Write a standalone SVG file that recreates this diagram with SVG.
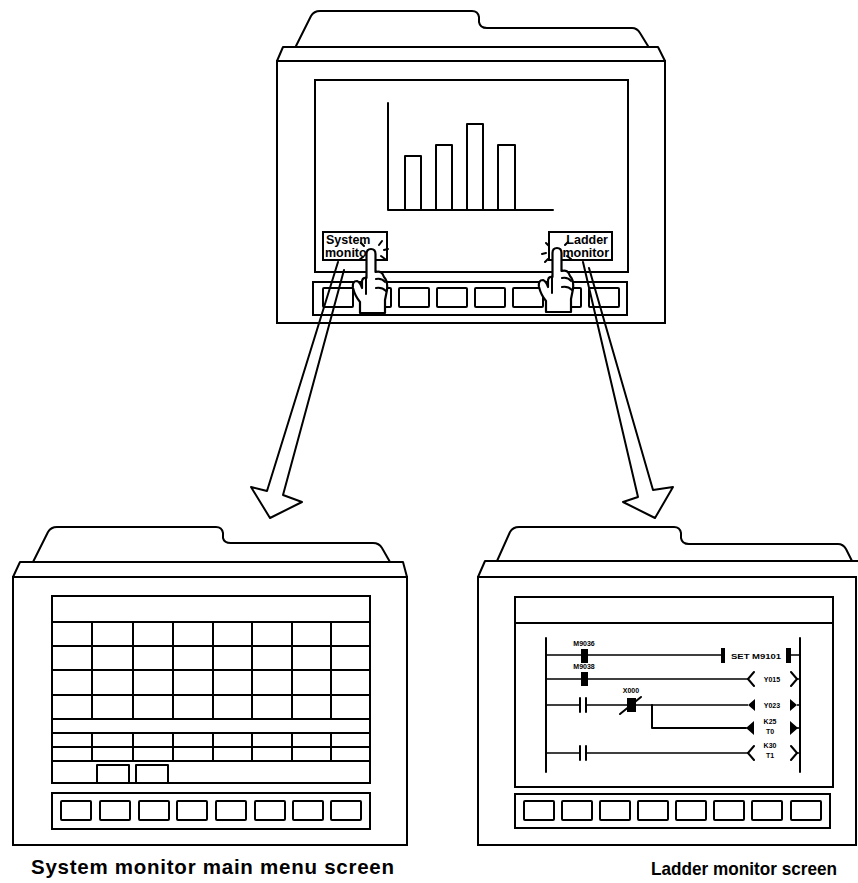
<svg xmlns="http://www.w3.org/2000/svg" width="858" height="883" viewBox="0 0 858 883">
  <defs>
    <style>
      .ln { fill: none; stroke: #000; stroke-width: 2; stroke-linejoin: round; stroke-linecap: round; }
      .bx { fill: #fff; stroke: #000; stroke-width: 2; }
      .thin { fill: none; stroke: #000; stroke-width: 1.6; }
      .blk { fill: #000; stroke: none; }
      .lbl { font-family: "Liberation Sans", Arial, sans-serif; font-weight: bold; fill: #000; }
      .tiny { font-family: "Liberation Sans", Arial, sans-serif; font-weight: bold; font-size: 7px; fill: #000; }
      .hand { fill: #fff; stroke: #000; stroke-width: 2.2; stroke-linejoin: round; stroke-linecap: round; }
    </style>
    <g id="key8">
      <rect class="bx" x="0" y="0" width="30" height="19" rx="1"/>
    </g>
    <path id="handShape" d="M -4.5,28 L -4.5,4 Q -4.5,-1 0,-1 Q 4.5,-1 4.5,4 L 4.5,22 Q 11,20 13,27 Q 17,31 16,40 L 14,50 L 14,63 L -11,63 L -11,52 Q -16,46 -18,38 Q -19,31 -14,31 Q -11,32 -9,38 L -9,31 Q -8,27 -4.5,28 Z"/>
  </defs>
  <rect width="858" height="883" fill="#fff"/>

  <!-- Top panel: graph screen with two touch keys -->
  <g id="top-panel">
    <path class="ln" d="M296,46 L311,16 Q314,11 320,11 L472,11 Q478,11 479,17 L479,22 Q480,28 487,28 L632,28 Q637,28 640,33 L648,46"/>
    <path class="ln" d="M277,61 L283,47 L658,47 L665,61"/>
    <rect class="bx" x="277" y="61" width="388" height="262"/>
    <rect class="bx" x="315" y="80" width="313" height="192"/>
    <!-- bar chart -->
    <path class="ln" d="M388,103 L388,210 L553,210"/>
    <path class="ln" d="M405,210 L405,156 L421,156 L421,210 M436,210 L436,145 L452,145 L452,210 M467,210 L467,124 L483,124 L483,210 M498,210 L498,145 L515,145 L515,210"/>
    <!-- touch keys -->
    <rect class="bx" x="323" y="232" width="64" height="28"/>
    <text class="lbl" x="326" y="244" font-size="12.5">System</text>
    <text class="lbl" x="325" y="257" font-size="12.5">monitor</text>
    <rect class="bx" x="549" y="232" width="63" height="28"/>
    <text class="lbl" x="608" y="244" font-size="12.5" text-anchor="end">Ladder</text>
    <text class="lbl" x="609" y="257" font-size="12.5" text-anchor="end">monitor</text>
    <!-- function key row -->
    <rect class="bx" x="313" y="282" width="314" height="33"/>
    <use href="#key8" x="323" y="288"/>
    <use href="#key8" x="361" y="288"/>
    <use href="#key8" x="399" y="288"/>
    <use href="#key8" x="437" y="288"/>
    <use href="#key8" x="475" y="288"/>
    <use href="#key8" x="513" y="288"/>
    <use href="#key8" x="551" y="288"/>
    <use href="#key8" x="589" y="288"/>
  </g>

  <!-- Lower left panel: system monitor main menu -->
  <g id="system-monitor">
    <path class="ln" d="M33,562 L48,532 Q51,527 57,527 L216,527 Q222,527 223,533 L223,538 Q224,543 231,543 L373,543 Q379,543 382,548 L390,562"/>
    <path class="ln" d="M13,577 L20,562 L403,562 L407,577"/>
    <rect class="bx" x="13" y="577" width="394" height="268"/>
    <rect class="bx" x="52" y="596" width="318" height="187"/>
    <path class="ln" d="M52,622 H370 M52,646 H370 M52,670 H370 M52,695 H370 M52,719 H370 M52,733 H370 M52,747 H370 M52,761 H370"/>
    <path class="ln" d="M92,622 V719 M133,622 V719 M173,622 V719 M213,622 V719 M252,622 V719 M292,622 V719 M331,622 V719"/>
    <path class="ln" d="M92,733 V761 M133,733 V761 M173,733 V761 M213,733 V761 M252,733 V761 M292,733 V761 M331,733 V761"/>
    <path class="ln" d="M97,783 V765 H129 V783 M136,783 V765 H168 V783"/>
    <rect class="bx" x="52" y="793" width="318" height="36"/>
    <use href="#key8" x="61" y="801"/>
    <use href="#key8" x="100" y="801"/>
    <use href="#key8" x="139" y="801"/>
    <use href="#key8" x="177" y="801"/>
    <use href="#key8" x="216" y="801"/>
    <use href="#key8" x="255" y="801"/>
    <use href="#key8" x="293" y="801"/>
    <use href="#key8" x="331" y="801"/>
    <text class="lbl" x="31" y="874" font-size="20.5" textLength="363" lengthAdjust="spacing">System monitor main menu screen</text>
  </g>

  <!-- Lower right panel: ladder monitor -->
  <g id="ladder-monitor">
    <path class="ln" d="M497,561 L510,532 Q513,527 519,527 L674,527 Q680,527 681,533 L681,538 Q682,544 689,544 L838,544 Q843,544 846,549 L852,561"/>
    <path class="ln" d="M478,577 L485,561 L860,561"/>
    <rect class="bx" x="478" y="577" width="378" height="268"/>
    <rect class="bx" x="515" y="597" width="318" height="190"/>
    <path class="ln" d="M515,623 H833"/>
    <!-- rails -->
    <path class="ln" d="M546,638 V772 M800,638 V772"/>
    <!-- rung 1: M9036 -> SET M9101 -->
    <path class="thin" d="M546,655 H721 M791,655 H800"/>
    <rect class="blk" x="581" y="649" width="7" height="14"/>
    <text class="tiny" x="584" y="646" text-anchor="middle">M9036</text>
    <rect class="blk" x="721" y="648" width="4" height="15"/>
    <text class="tiny" x="731" y="659" textLength="50" lengthAdjust="spacingAndGlyphs">SET M9101</text>
    <rect class="blk" x="786" y="648" width="5" height="15"/>
    <!-- rung 2: M9038 -> Y015 -->
    <path class="thin" d="M546,679 H748 M797,679 H800"/>
    <rect class="blk" x="581" y="672" width="7" height="14"/>
    <text class="tiny" x="584" y="669" text-anchor="middle">M9038</text>
    <path class="ln" d="M754,672 L748,679 L754,686 M791,672 L797,679 L791,686"/>
    <text class="tiny" x="772" y="682" text-anchor="middle">Y015</text>
    <!-- rung 3: X0 contact, X000 break contact -> Y023, branch to T0 -->
    <path class="thin" d="M546,705 H580 M586,705 H748 M797,705 H800"/>
    <path class="ln" d="M580,698 V712 M586,698 V712"/>
    <rect class="blk" x="627" y="698" width="9" height="14"/>
    <path class="ln" d="M620,714 L641,697"/>
    <text class="tiny" x="631" y="693" text-anchor="middle">X000</text>
    <path class="blk" d="M748,705 L755,699 L755,711 Z M797,705 L790,699 L790,711 Z"/>
    <text class="tiny" x="772" y="708" text-anchor="middle">Y023</text>
    <path class="ln" d="M652,705 V728 H746"/>
    <path class="blk" d="M746,728 L754,721 L754,735 Z M798,728 L790,721 L790,735 Z"/>
    <path class="thin" d="M797,728 H800"/>
    <text class="tiny" x="770" y="724" text-anchor="middle">K25</text>
    <text class="tiny" x="770" y="734" text-anchor="middle">T0</text>
    <!-- rung 5: contact -> T1 -->
    <path class="thin" d="M546,753 H580 M586,753 H748 M797,753 H800"/>
    <path class="ln" d="M580,746 V760 M586,746 V760"/>
    <path class="ln" d="M754,746 L748,753 L754,760 M791,746 L797,753 L791,760"/>
    <text class="tiny" x="770" y="748" text-anchor="middle">K30</text>
    <text class="tiny" x="770" y="758" text-anchor="middle">T1</text>
    <!-- function key row -->
    <rect class="bx" x="515" y="794" width="315" height="34"/>
    <use href="#key8" x="524" y="801"/>
    <use href="#key8" x="562" y="801"/>
    <use href="#key8" x="600" y="801"/>
    <use href="#key8" x="638" y="801"/>
    <use href="#key8" x="676" y="801"/>
    <use href="#key8" x="714" y="801"/>
    <use href="#key8" x="752" y="801"/>
    <use href="#key8" x="791" y="801"/>
    <text class="lbl" x="651" y="875" font-size="18.5" textLength="186" lengthAdjust="spacingAndGlyphs">Ladder monitor screen</text>
  </g>

  <!-- Connectors: hollow arrows from each touch key to its screen -->
  <g id="connectors">
    <path class="ln" d="M338,262 L267,491 L251,487 L270,518 L302,502 L283,495 L344,270"/>
    <path class="ln" d="M583,262 L638,497 L623,502 L655,518 L673,487 L653,490 L589,268"/>
  </g>

  <!-- Pointing hands pressing the keys -->
  <g id="hand-left">
    <use href="#handShape" class="hand" x="371" y="250"/>
    <path class="ln" d="M376,279 Q382,278 385,282 M376,288 Q382,287 386,291 M366,278 V294"/>
    <path class="ln" d="M379,245 L382,241 M384,250 L388,249 M381,256 L385,259 M363,257 L359,260 M364,246 L361,243"/>
  </g>
  <g id="hand-right">
    <use href="#handShape" class="hand" x="557" y="249"/>
    <path class="ln" d="M562,278 Q568,277 571,281 M562,287 Q568,286 572,290 M552,277 V293"/>
    <path class="ln" d="M549,246 L546,243 M546,253 L542,254 M548,259 L545,262 M565,245 L568,242 M567,256 L571,259"/>
  </g>
</svg>
